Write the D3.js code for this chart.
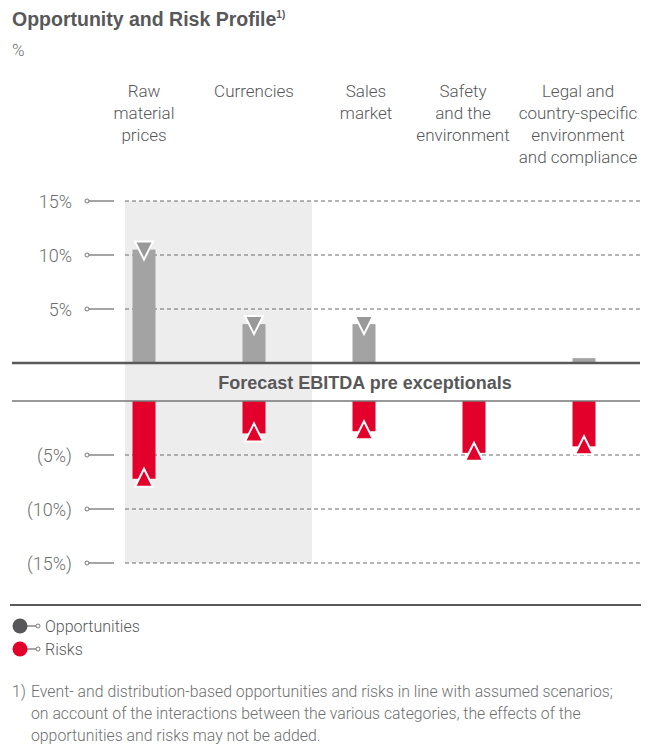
<!DOCTYPE html>
<html>
<head>
<meta charset="utf-8">
<script src="https://cdn.jsdelivr.net/npm/d3@7"></script>
<style>
  body { margin: 0; background: #fff; }
  svg text { font-family: Roboto, "Liberation Sans", sans-serif; }
  svg text.bold { font-family: "Liberation Sans", Arial, sans-serif; font-weight: 700; }
</style>
</head>
<body>
<div id="chart"></div>
<script>
// categories (multi-line labels)
var categories = ["Raw material prices", "Currencies", "Sales market", "Safety and the environment", "Legal and country-specific environment and compliance"]
var categoryLines = [
  ["Raw", "material", "prices"],
  ["Currencies"],
  ["Sales", "market"],
  ["Safety", "and the", "environment"],
  ["Legal and", "country-specific", "environment", "and compliance"]
]
// values in %
var opportunities = [10.5, 3.6, 3.6, 0, 0.45]
var risks = [7.2, 3.0, 2.8, 4.8, 4.2]
var upTicks = [5, 10, 15]
var downTicks = [5, 10, 15]
var footnote = [
  "Event- and distribution-based opportunities and risks in line with assumed scenarios;",
  "on account of the interactions between the various categories, the effects of the",
  "opportunities and risks may not be added."
]

var width = 654, height = 744
var grey = "#a3a3a3", greyMark = "#999999", red = "#e3002b", textCol = "#58585a", lightText = "#6f6f6f"
// labels of the last columns are nudged left so they fit in the page
var labelShift = [0, 0, 2, -11, -6]

var svg = d3.select("#chart").append("svg")
  .attr("width", width).attr("height", height)

// title
var title = svg.append("text").attr("class", "bold").attr("x", 12).attr("y", 26)
  .style("font-size", "19.5px").attr("fill", textCol)
title.append("tspan").text("Opportunity and Risk Profile")
title.append("tspan").text("1)").attr("dy", -8).style("font-size", "10px")
svg.append("text").attr("x", 12).attr("y", 56).text("%")
  .style("font-size", "17px").style("font-weight", "300").attr("fill", lightText)

// scales
var x = d3.scaleBand().domain(categories).range([89, 639])
var barW = 23
var cx = function(c) { return x(c) + x.bandwidth() / 2 }
var yUp = d3.scaleLinear().domain([0, 15]).range([363, 201])
var yDown = d3.scaleLinear().domain([0, 15]).range([401, 563])

// shaded band behind first category
var shadeX0 = cx(categories[0]) - 19, shadeX1 = cx(categories[1]) + 58
svg.append("rect").attr("x", shadeX0).attr("y", yUp(15))
  .attr("width", shadeX1 - shadeX0).attr("height", yDown(15) - yUp(15))
  .attr("fill", "#ededed")

// category labels
categories.forEach(function(c, i) {
  var t = svg.append("text").attr("text-anchor", "middle")
    .style("font-size", "17px").style("font-weight", "300").attr("fill", textCol)
  categoryLines[i].forEach(function(l, j) {
    t.append("tspan").attr("x", cx(c) + labelShift[i]).attr("y", 97 + j * 22).text(l)
  })
})

// gridlines + ticks
function drawTicks(scale, ticks, fmt) {
  ticks.forEach(function(v) {
    var y = scale(v)
    svg.append("line").attr("x1", 125).attr("x2", 640).attr("y1", y).attr("y2", y)
      .attr("stroke", "#6a6a6a").attr("stroke-width", 1).attr("stroke-dasharray", "4,3")
    svg.append("line").attr("x1", 88).attr("x2", 114).attr("y1", y).attr("y2", y)
      .attr("stroke", "#6a6a6a").attr("stroke-width", 1.2)
    svg.append("circle").attr("cx", 87).attr("cy", y).attr("r", 2)
      .attr("fill", "#fff").attr("stroke", "#6a6a6a").attr("stroke-width", 0.9)
    svg.append("text").attr("x", 72).attr("y", y + 6.5).attr("text-anchor", "end")
      .style("font-size", "18px").style("font-weight", "300").attr("fill", lightText).text(fmt(v))
  })
}
drawTicks(yUp, upTicks, function(v) { return v + "%" })
drawTicks(yDown, downTicks, function(v) { return "(" + v + "%)" })

// opportunity bars
svg.selectAll(".opp").data(opportunities).enter().append("rect")
  .attr("x", function(d, i) { return cx(categories[i]) - barW / 2 })
  .attr("y", function(d) { return yUp(d) })
  .attr("width", barW)
  .attr("height", function(d) { return yUp(0) - yUp(d) })
  .attr("fill", grey)

// opportunity markers (down triangles)
svg.selectAll(".oppMark").data(opportunities.map(function(d, i) { return [d, i] }).filter(function(d) { return d[0] > 1 }))
  .enter().append("path")
  .attr("d", function(d) {
    var c = cx(categories[d[1]]), y = yUp(d[0])
    return "M" + (c - 9) + "," + (y - 8) + "L" + (c + 9) + "," + (y - 8) + "L" + c + "," + (y + 10) + "Z"
  })
  .attr("fill", greyMark).attr("stroke", "#fff").attr("stroke-width", 2).attr("stroke-linejoin", "miter")

// risk bars
svg.selectAll(".risk").data(risks).enter().append("rect")
  .attr("x", function(d, i) { return cx(categories[i]) - barW / 2 })
  .attr("y", yDown(0))
  .attr("width", barW)
  .attr("height", function(d) { return yDown(d) - yDown(0) })
  .attr("fill", red)

// risk markers (up triangles)
svg.selectAll(".riskMark").data(risks).enter().append("path")
  .attr("d", function(d, i) {
    var c = cx(categories[i]), y = yDown(d)
    return "M" + (c - 9) + "," + (y + 8) + "L" + (c + 9) + "," + (y + 8) + "L" + c + "," + (y - 10) + "Z"
  })
  .attr("fill", red).attr("stroke", "#fff").attr("stroke-width", 2).attr("stroke-linejoin", "miter")

// axis lines
svg.append("line").attr("x1", 12).attr("x2", 640).attr("y1", yUp(0)).attr("y2", yUp(0))
  .attr("stroke", "#5a5a5a").attr("stroke-width", 2.5)
svg.append("line").attr("x1", 12).attr("x2", 640).attr("y1", yDown(0)).attr("y2", yDown(0))
  .attr("stroke", "#777").attr("stroke-width", 1.5)
svg.append("text").attr("class", "bold").attr("x", 365).attr("y", 389).attr("text-anchor", "middle")
  .style("font-size", "18px").attr("fill", textCol)
  .text("Forecast EBITDA pre exceptionals")

svg.append("line").attr("x1", 10).attr("x2", 641).attr("y1", 605).attr("y2", 605)
  .attr("stroke", "#5a5a5a").attr("stroke-width", 2)

// legend
var legend = [["Opportunities", "#58585a"], ["Risks", red]]
legend.forEach(function(l, i) {
  var y = 626 + i * 23
  svg.append("line").attr("x1", 20).attr("x2", 36).attr("y1", y).attr("y2", y)
    .attr("stroke", "#6a6a6a").attr("stroke-width", 1.2)
  svg.append("circle").attr("cx", 20).attr("cy", y).attr("r", 7.5).attr("fill", l[1])
  svg.append("circle").attr("cx", 38).attr("cy", y).attr("r", 2)
    .attr("fill", "#fff").attr("stroke", "#6a6a6a").attr("stroke-width", 0.9)
  svg.append("text").attr("x", 45).attr("y", y + 6).text(l[0])
    .style("font-size", "16px").style("font-weight", "300").attr("fill", textCol)
})

// footnote
svg.append("text").attr("x", 12).attr("y", 697).text("1)")
  .style("font-size", "15.8px").style("font-weight", "300").attr("fill", lightText)
footnote.forEach(function(l, i) {
  svg.append("text").attr("x", 31).attr("y", 697 + i * 22).text(l)
    .style("font-size", "15.8px").style("font-weight", "300").attr("fill", lightText)
})
</script>
</body>
</html>
